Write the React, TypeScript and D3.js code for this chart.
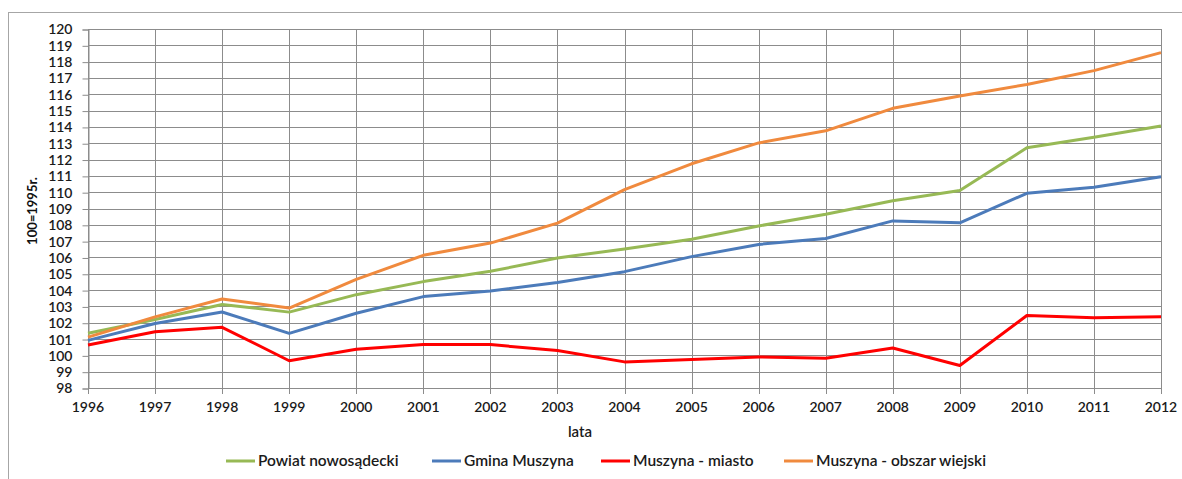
import React, { useEffect, useRef } from 'react';
import * as d3 from 'd3';

const years = [1996, 1997, 1998, 1999, 2000, 2001, 2002, 2003, 2004, 2005, 2006, 2007, 2008, 2009, 2010, 2011, 2012];

const powiat = [101.35, 102.2, 103.12, 102.65, 103.72, 104.52, 105.15, 105.97, 106.52, 107.12, 107.93, 108.65, 109.48, 110.1, 112.72, 113.36, 114.06];
const gmina = [100.92, 101.95, 102.66, 101.35, 102.58, 103.6, 103.95, 104.46, 105.13, 106.05, 106.8, 107.16, 108.24, 108.12, 109.93, 110.3, 110.95];
const miasto = [100.64, 101.45, 101.72, 99.67, 100.38, 100.66, 100.66, 100.3, 99.6, 99.74, 99.9, 99.82, 100.45, 99.38, 102.44, 102.3, 102.36];
const wiejski = [101.12, 102.36, 103.45, 102.9, 104.66, 106.13, 106.88, 108.1, 110.16, 111.74, 113.02, 113.76, 115.14, 115.9, 116.6, 117.45, 118.55];

const seriesNames = ['Powiat nowosądecki', 'Gmina Muszyna', 'Muszyna - miasto', 'Muszyna - obszar wiejski'];
const seriesColors = ['#97B955', '#4C7BBA', '#FF0000', '#F08A3E'];
const seriesValues = [powiat, gmina, miasto, wiejski];

const yTicks = d3.range(98, 121, 1);

const FONT = 'Lato, "Open Sans", sans-serif';

export default function App() {
  const ref = useRef<SVGSVGElement>(null);

  useEffect(() => {
    document.body.style.margin = '0';
    document.body.style.overflow = 'hidden';

    const svg = d3.select(ref.current);
    svg.selectAll('*').remove();

    const left = 88;
    const right = 1161;
    const top = 29;
    const bottom = 388;

    const x = d3.scaleLinear().domain([years[0], years[years.length - 1]]).range([left, right]);
    const y = d3.scaleLinear().domain([98, 120]).range([bottom, top]);

    svg.append('rect')
      .attr('width', 1182).attr('height', 479).attr('fill', '#fff');

    // frame of the chart
    svg.append('rect')
      .attr('x', 8.5).attr('y', 12.5)
      .attr('width', 1200).attr('height', 500)
      .attr('fill', 'none').attr('stroke', '#a6a6a6');

    // horizontal grid
    svg.append('g')
      .selectAll('line')
      .data(yTicks)
      .enter()
      .append('line')
      .attr('x1', left).attr('x2', right)
      .attr('y1', (d) => Math.round(y(d)) + 0.5)
      .attr('y2', (d) => Math.round(y(d)) + 0.5)
      .attr('stroke', '#8c8c8c').attr('stroke-width', 1);

    // vertical grid
    svg.append('g')
      .selectAll('line')
      .data(years)
      .enter()
      .append('line')
      .attr('x1', (d) => Math.round(x(d)) + 0.5)
      .attr('x2', (d) => Math.round(x(d)) + 0.5)
      .attr('y1', top).attr('y2', bottom + 6)
      .attr('stroke', '#8c8c8c').attr('stroke-width', 1);

    // y axis
    const yAxis = svg.append('g')
      .attr('transform', `translate(${left + 0.5},0.5)`)
      .call(d3.axisLeft(y).tickValues(yTicks).tickSize(6).tickPadding(10).tickFormat(d3.format('d')));
    yAxis.select('.domain').attr('stroke', '#8c8c8c');
    yAxis.selectAll('.tick line').attr('stroke', '#8c8c8c');
    yAxis.selectAll('.tick text')
      .attr('font-family', FONT).attr('font-size', 14).attr('font-weight', 600).attr('fill', '#1a1a1a');

    // x axis labels
    svg.append('g')
      .selectAll('text')
      .data(years)
      .enter()
      .append('text')
      .attr('x', (d) => x(d))
      .attr('y', 412)
      .attr('text-anchor', 'middle')
      .attr('font-family', FONT).attr('font-size', 14).attr('font-weight', 600).attr('fill', '#1a1a1a')
      .text((d) => d);

    // lines
    const line = d3.line<number>()
      .x((d, i) => x(years[i]))
      .y((d) => y(d));

    svg.append('g')
      .selectAll('path')
      .data(seriesValues)
      .enter()
      .append('path')
      .attr('d', (d) => line(d))
      .attr('fill', 'none')
      .attr('stroke', (d, i) => seriesColors[i])
      .attr('stroke-width', 3)
      .attr('stroke-linejoin', 'round');

    // axis titles
    svg.append('text')
      .attr('transform', 'translate(37,211) rotate(-90)')
      .attr('text-anchor', 'middle')
      .attr('font-family', FONT).attr('font-size', 13).attr('font-weight', 700).attr('fill', '#111')
      .text('100=1995r.');

    svg.append('text')
      .attr('x', 580).attr('y', 437)
      .attr('text-anchor', 'middle')
      .attr('font-family', FONT).attr('font-size', 15).attr('font-weight', 600).attr('fill', '#1a1a1a')
      .text('lata');

    // legend
    const legendX = [226, 432, 601, 784];
    const legend = svg.append('g')
      .selectAll('g')
      .data(seriesNames)
      .enter()
      .append('g')
      .attr('transform', (d, i) => `translate(${legendX[i]},461)`);

    legend.append('line')
      .attr('x1', 0).attr('x2', 29)
      .attr('y1', 0).attr('y2', 0)
      .attr('stroke', (d, i) => seriesColors[i])
      .attr('stroke-width', 3);

    legend.append('text')
      .attr('x', 32).attr('y', 5)
      .attr('font-family', FONT).attr('font-size', 15.5).attr('font-weight', 600).attr('fill', '#1a1a1a')
      .text((d) => d);
  }, []);

  return <svg ref={ref} width={1182} height={479} style={{ display: 'block' }} />;
}
